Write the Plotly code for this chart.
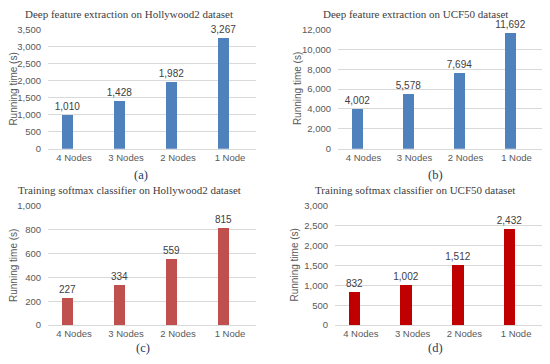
import plotly.graph_objects as go

categories = ["4 Nodes", "3 Nodes", "2 Nodes", "1 Node"]
hollywood_feat = [1010, 1428, 1982, 3267]
ucf_feat = [4002, 5578, 7694, 11692]
hollywood_train = [227, 334, 559, 815]
ucf_train = [832, 1002, 1512, 2432]

titles = [
    "Deep feature extraction on Hollywood2 dataset",
    "Deep feature extraction on UCF50 dataset",
    "Training softmax classifier on Hollywood2 dataset",
    "Training softmax classifier on UCF50 dataset",
]
captions = ["(a)", "(b)", "(c)", "(d)"]
y_max = [3500, 12000, 1000, 3000]
y_dtick = [500, 2000, 200, 500]
colors = ["#4F81BD", "#4F81BD", "#C0504D", "#C00000"]
series = [hollywood_feat, ucf_feat, hollywood_train, ucf_train]

SANS = "Liberation Sans, Arial, sans-serif"
SERIF = "Liberation Serif, Times New Roman, serif"

# page body has an 8px margin, so the figure is drawn at (8, 8) in the window
OFF = 8
W, H = 550 - OFF, 364 - OFF


def fx(px):
    return (px - OFF) / W


def fy(py):
    return 1 - (py - OFF) / H


# plot areas in window pixels: (x0, x1, ytop, ybottom)
boxes = [(48, 256, 24, 147), (338, 542, 24, 147), (48, 256, 206, 329), (335, 542, 206, 329)]
title_pos = [(129, 8), (415, 8), (129, 190), (415, 190)]
caption_pos = [(141, 174), (435, 174), (143, 353), (435, 353)]
ytitle_x = [13.5, 297, 13.5, 294]

fig = go.Figure()
annotations = []
for i in range(4):
    x0, x1, yt, yb = boxes[i]
    sfx = "" if i == 0 else str(i + 1)
    fig.add_trace(go.Bar(
        x=list(range(4)), y=series[i], xaxis="x" + sfx, yaxis="y" + sfx,
        marker=dict(color=colors[i], line=dict(width=0)),
        width=0.22, offset=-0.235,
        text=[f"{v:,}" for v in series[i]], textposition="outside",
        textfont=dict(family=SANS, size=10, color="#404040"),
        cliponaxis=False, showlegend=False,
    ))
    fig.layout["xaxis" + sfx] = dict(
        domain=[fx(x0), fx(x1)], anchor="y" + sfx, range=[-0.5, 3.5],
        tickmode="array", tickvals=list(range(4)), ticktext=categories,
        showgrid=False, zeroline=False, showline=True, linecolor="#D9D9D9", linewidth=1,
        ticks="", tickfont=dict(family=SANS, size=9.5, color="#595959"),
        fixedrange=True,
    )
    fig.layout["yaxis" + sfx] = dict(
        domain=[fy(yb), fy(yt)], anchor="x" + sfx, range=[0, y_max[i]],
        dtick=y_dtick[i], tickformat=",", showgrid=True, gridcolor="#D9D9D9", gridwidth=1,
        zeroline=False, showline=False, ticks="", ticklabelstandoff=6,
        tickfont=dict(family=SANS, size=9.5, color="#595959"),
        fixedrange=True,
    )
    annotations.append(dict(
        text=titles[i], x=fx(title_pos[i][0]), y=fy(title_pos[i][1]),
        xref="paper", yref="paper", xanchor="center", yanchor="middle", showarrow=False,
        font=dict(family=SERIF, size=11, color="#404040"),
    ))
    annotations.append(dict(
        text=captions[i], x=fx(caption_pos[i][0]), y=fy(caption_pos[i][1]),
        xref="paper", yref="paper", xanchor="center", yanchor="middle", showarrow=False,
        font=dict(family=SERIF, size=12.5, color="#1F3864"),
    ))
    annotations.append(dict(
        text="Running time (s)", x=fx(ytitle_x[i]), y=fy((yt + yb) / 2),
        xref="paper", yref="paper", xanchor="center", yanchor="middle", showarrow=False,
        textangle=-90, borderpad=0,
        font=dict(family=SANS, size=10, color="#595959"),
    ))

fig.update_layout(
    width=W, height=H, margin=dict(l=0, r=0, t=0, b=0),
    paper_bgcolor="white", plot_bgcolor="white",
    annotations=annotations, bargap=0,
    uniformtext=dict(minsize=10, mode="show"),
)
fig.write_html("out.html")
